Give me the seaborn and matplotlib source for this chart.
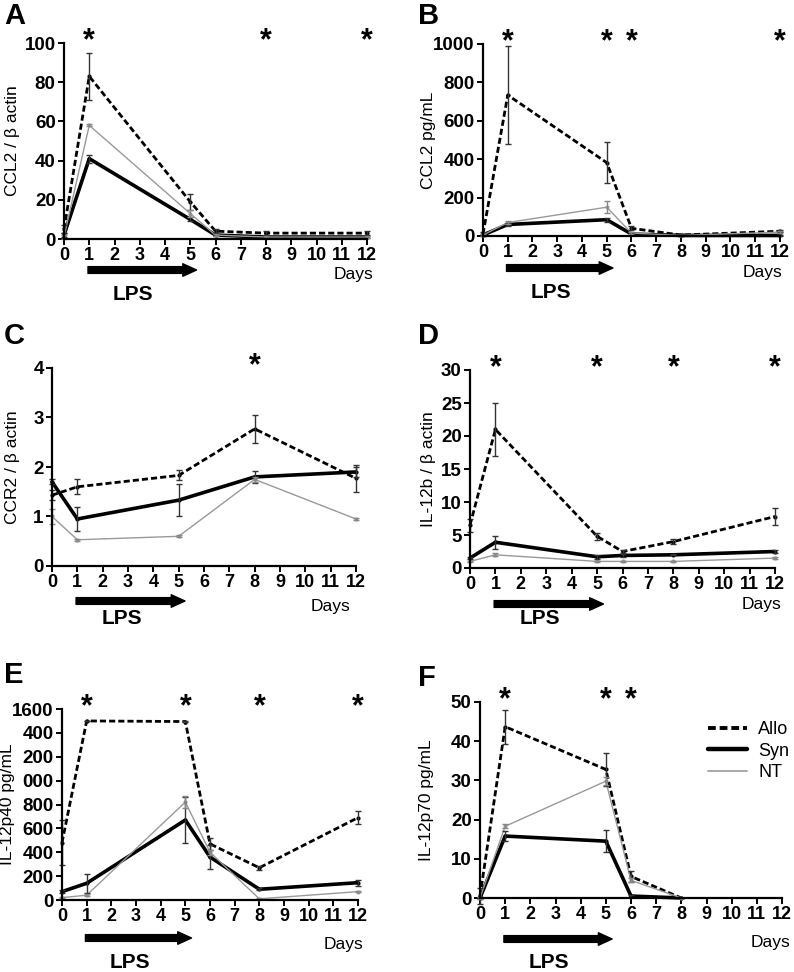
import pandas as pd
import numpy as np
import matplotlib
matplotlib.use("Agg")
import matplotlib.pyplot as plt
import matplotlib.transforms as mtransforms
from matplotlib.lines import Line2D
import seaborn as sns

# ------------------------------------------------------------------
# Datos (media y error por grupo)
# ------------------------------------------------------------------
GRUPOS = ['Allo', 'Syn', 'NT']

# A: CCL2 / beta actin
A_dias = [0, 1, 5, 6, 8, 12]
A_allo = [5, 83, 19, 4, 3, 3]
A_allo_err = [2, 12, 4, 1, 1, 1]
A_syn = [2, 41, 10, 2, 1, 1]
A_syn_err = [1, 2, 1, 0.5, 0.5, 0.5]
A_nt = [1, 58, 13, 2, 1, 1]
A_nt_err = [1, 0.5, 2, 0.5, 0.5, 0.5]
A_signif = [1, 8, 12]
A_yticks = [0, 20, 40, 60, 80, 100]

# B: CCL2 pg/mL
B_dias = [0, 1, 5, 6, 8, 12]
B_allo = [10, 734, 382, 40, 5, 25]
B_allo_err = [10, 255, 105, 10, 3, 5]
B_syn = [5, 60, 85, 10, 3, 3]
B_syn_err = [3, 10, 10, 5, 2, 2]
B_nt = [5, 70, 150, 15, 3, 20]
B_nt_err = [3, 8, 30, 5, 2, 5]
B_signif = [1, 5, 6, 12]
B_yticks = [0, 200, 400, 600, 800, 1000]

# C: CCR2 / beta actin
C_dias = [0, 1, 5, 8, 12]
C_allo = [1.43, 1.6, 1.83, 2.77, 1.77]
C_allo_err = [0.1, 0.15, 0.1, 0.28, 0.28]
C_syn = [1.7, 0.95, 1.33, 1.8, 1.9]
C_syn_err = [0.05, 0.25, 0.33, 0.12, 0.1]
C_nt = [1.0, 0.53, 0.6, 1.75, 0.95]
C_nt_err = [0.15, 0.02, 0.02, 0.05, 0.02]
C_signif = [8]
C_yticks = [0, 1, 2, 3, 4]

# D: IL-12b / beta actin
D_dias = [0, 1, 5, 6, 8, 12]
D_allo = [6.5, 21, 4.8, 2.5, 4.0, 7.8]
D_allo_err = [1.0, 4.0, 0.5, 0.3, 0.4, 1.3]
D_syn = [1.5, 3.9, 1.7, 1.9, 2.0, 2.5]
D_syn_err = [0.2, 1.0, 0.3, 0.2, 0.1, 0.2]
D_nt = [1.0, 2.0, 1.0, 1.0, 1.0, 1.5]
D_nt_err = [0.1, 0.2, 0.1, 0.1, 0.1, 0.1]
D_signif = [1, 5, 8, 12]
D_yticks = [0, 5, 10, 15, 20, 25, 30]

# E: IL-12p40 pg/mL
E_dias = [0, 1, 5, 6, 8, 12]
E_allo = [480, 1500, 1495, 470, 270, 690]
E_allo_err = [190, 0, 5, 50, 15, 55]
E_syn = [70, 140, 670, 360, 90, 145]
E_syn_err = [10, 80, 190, 100, 10, 25]
E_nt = [20, 40, 820, 400, 10, 70]
E_nt_err = [5, 10, 50, 20, 5, 5]
E_signif = [1, 5, 8, 12]
E_yticks = [0, 200, 400, 600, 800, 1000, 1200, 1400, 1600]
E_yticklabels = ['0', '200', '400', '600', '800', '000', '200', '400', '1600']

# F: IL-12p70 pg/mL
F_dias = [0, 1, 5, 6, 8]
F_allo = [0.5, 43.7, 32.8, 5.5, 0]
F_allo_err = [2, 4.3, 4.2, 1.5, 0]
F_syn = [0, 15.8, 14.5, 0.5, 0]
F_syn_err = [0.3, 1.2, 2.8, 0.3, 0]
F_nt = [0, 18.3, 29.8, 4.5, 0]
F_nt_err = [0.3, 0.5, 1.0, 0.5, 0]
F_signif = [1, 5, 6]
F_yticks = [0, 10, 20, 30, 40, 50]

X_TICKS = list(range(0, 13))

# ------------------------------------------------------------------
# Estilo
# ------------------------------------------------------------------
sns.set_style("ticks")
plt.rcParams['font.family'] = ['Liberation Sans', 'DejaVu Sans']
for clave in ['text.color', 'axes.labelcolor', 'xtick.color', 'ytick.color', 'axes.edgecolor']:
    plt.rcParams[clave] = 'black'

COLORES = {'Allo': 'black', 'Syn': 'black', 'NT': '#999999'}
GROSOR = {'Allo': 2.0, 'Syn': 2.6, 'NT': 1.0}
TRAZOS = {'Allo': (2.2, 1.1), 'Syn': '', 'NT': ''}

fig = plt.figure(figsize=(7.94, 9.72), dpi=100)
W, H = 794.0, 972.0


def caja(izq, der, arriba, abajo):
    return [izq / W, 1 - abajo / H, (der - izq) / W, (abajo - arriba) / H]


# (letra, dias, series, errores, signif, ylabel, ymax, yticks, etiquetas,
#  caja en píxeles, pos letra, x ylabel, desplazamiento Days, flecha, LPS)
paneles = [
    ('A', A_dias, (A_allo, A_syn, A_nt), (A_allo_err, A_syn_err, A_nt_err), A_signif,
     'CCL2 / β actin', 100, A_yticks, None,
     caja(64, 367, 43, 239), (4, 16), 13, (6, 36), 31, 55),
    ('B', B_dias, (B_allo, B_syn, B_nt), (B_allo_err, B_syn_err, B_nt_err), B_signif,
     'CCL2 pg/mL', 1000, B_yticks, None,
     caja(483, 780, 44, 236), (418, 16), 428, (2, 37), 32, 57),
    ('C', C_dias, (C_allo, C_syn, C_nt), (C_allo_err, C_syn_err, C_nt_err), C_signif,
     'CCR2 / β actin', 4, C_yticks, None,
     caja(52, 356, 368, 566), (4, 336), 13, (-6, 41), 35, 52),
    ('D', D_dias, (D_allo, D_syn, D_nt), (D_allo_err, D_syn_err, D_nt_err), D_signif,
     'IL-12b / β actin', 30, D_yticks, None,
     caja(470, 775, 370, 568), (418, 336), 428, (6, 37), 36, 50),
    ('E', E_dias, (E_allo, E_syn, E_nt), (E_allo_err, E_syn_err, E_nt_err), E_signif,
     'IL-12p40 pg/mL', 1600, E_yticks, E_yticklabels,
     caja(62, 358, 709, 900), (4, 675), 8, (5, 44), 38, 62),
    ('F', F_dias, (F_allo, F_syn, F_nt), (F_allo_err, F_syn_err, F_nt_err), F_signif,
     'IL-12p70 pg/mL', 50, F_yticks, None,
     caja(480, 782, 702, 898), (418, 678), 427, (8, 44), 41, 64),
]

for (letra, dias, series, errores, signif, ylab, ymax, yticks, ylabels,
     pos, pos_letra, ylab_x, off_days, off_flecha, off_lps) in paneles:
    ax = fig.add_axes(pos)

    # DataFrame largo para seaborn
    filas = []
    for g, vals in zip(GRUPOS, series):
        for d, v in zip(dias, vals):
            filas.append({'dia': d, 'valor': v, 'grupo': g})
    df = pd.DataFrame(filas)

    sns.lineplot(data=df, x='dia', y='valor', hue='grupo', style='grupo', size='grupo',
                 hue_order=GRUPOS, style_order=GRUPOS, size_order=GRUPOS,
                 palette=COLORES, dashes=TRAZOS, sizes=GROSOR,
                 markers={'Allo': 'o', 'Syn': 'o', 'NT': 'o'}, markersize=3,
                 markeredgewidth=0, legend=False, ax=ax, estimator=None)

    for g, vals, errs in zip(GRUPOS, series, errores):
        ax.errorbar(dias, vals, yerr=errs, fmt='none',
                    ecolor='#333333' if g != 'NT' else '#888888',
                    elinewidth=1.0, capsize=2.5, capthick=1.0, clip_on=False)

    for ln in ax.lines:
        ln.set_clip_on(False)

    ax.set_xlim(0, 12)
    ax.set_ylim(0, ymax)
    if ylabels is None:
        ylabels = [str(v) for v in yticks]
    ax.set_xticks(X_TICKS, labels=[str(v) for v in X_TICKS],
                  fontsize=13, fontweight='bold')
    ax.set_yticks(yticks, labels=ylabels, fontsize=13.5, fontweight='bold')
    ax.set_xlabel('')
    ax.set_ylabel(ylab, fontsize=12.5, va='center')
    ax.yaxis.set_label_coords((ylab_x - pos[0] * W) / (pos[2] * W), 0.5)

    sns.despine(ax=ax)
    for s in ['left', 'bottom']:
        ax.spines[s].set_linewidth(1.6)
    ax.tick_params(direction='out', length=4, width=1.4, pad=2)

    # Letra del panel
    fig.text(pos_letra[0] / W, 1 - pos_letra[1] / H, letra, fontsize=21,
             fontweight='bold', ha='left', va='center')

    # Asteriscos de significancia
    trans = mtransforms.blended_transform_factory(ax.transData, ax.transAxes)
    for d in signif:
        ax.annotate('*', xy=(d, 1), xycoords=trans, xytext=(0, 2),
                    textcoords='offset pixels', ha='center', va='center',
                    fontsize=22, fontweight='bold', annotation_clip=False)

    # Etiqueta "Days"
    ax.annotate('Days', xy=(1, 0), xycoords='axes fraction',
                xytext=(off_days[0], -off_days[1]), textcoords='offset pixels',
                ha='right', va='center', fontsize=12.5, annotation_clip=False)

    # Flecha LPS (días 1 a 5, por debajo del eje)
    trans_flecha = trans + mtransforms.ScaledTranslation(0, -off_flecha / 100.0,
                                                         fig.dpi_scale_trans)
    ax.annotate('', xy=(5.25, 0), xycoords=trans_flecha,
                xytext=(0.95, 0), textcoords=trans_flecha, annotation_clip=False,
                arrowprops=dict(arrowstyle='simple,head_length=0.55,head_width=0.5,tail_width=0.27',
                                color='black', mutation_scale=18, shrinkA=0, shrinkB=0))

    ax.annotate('LPS', xy=(2.75, 0), xycoords=trans, xytext=(0, -off_lps),
                textcoords='offset pixels', ha='center', va='center',
                fontsize=15, fontweight='bold', annotation_clip=False)

    # Leyenda solo en F
    if letra == 'F':
        manijas = [Line2D([0], [0], color='black', lw=2.8, dashes=(2.0, 1.0)),
                   Line2D([0], [0], color='black', lw=3.2),
                   Line2D([0], [0], color=COLORES['NT'], lw=1.2)]
        ax.legend(manijas, GRUPOS, frameon=False, prop={'size': 13},
                  loc='upper left', bbox_to_anchor=(0.70, 0.985),
                  handlelength=2.2, handletextpad=0.6, labelspacing=0.25)

fig.savefig('out.png', dpi=100)
